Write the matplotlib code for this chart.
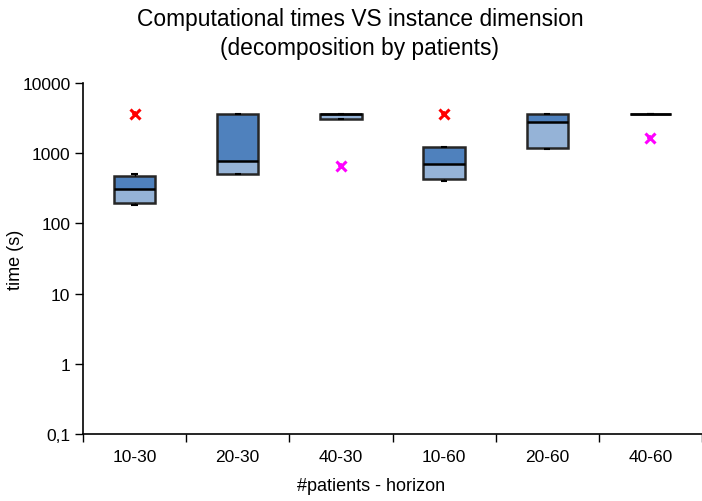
import numpy as np
import matplotlib.pyplot as plt
from matplotlib.ticker import FixedLocator, FixedFormatter, NullLocator

plt.rcParams['font.family'] = ['Liberation Sans', 'DejaVu Sans']

# Data
categories = ['10-30', '20-30', '40-30', '10-60', '20-60', '40-60']
whisker_lo = [183, 500, 3070, 402, 1140, 3600]
q1 = [195, 511, 3070, 429, 1175, 3600]
median = [306, 774, 3600, 709, 2755, 3600]
q3 = [478, 3600, 3600, 1238, 3600, 3600]
whisker_hi = [511, 3600, 3600, 1238, 3650, 3600]
outlier_x = ['10-30', '10-60', '40-30', '40-60']
outlier_y = [3600, 3600, 657, 1663]
outlier_color = ['#ff0000', '#ff0000', '#ff00ff', '#ff00ff']

light = '#95b3d7'
dark = '#4f81bd'
edge = '#262626'

fig = plt.figure(figsize=(7.02, 5.02), dpi=100)
ax = fig.add_axes([83 / 702, 67 / 502, 619 / 702, 351 / 502])

pos = np.arange(len(categories)) + 0.5
q1 = np.array(q1); median = np.array(median); q3 = np.array(q3)
w = 0.4

# whiskers
ax.vlines(pos, whisker_lo, q1, color='black', lw=1)
ax.vlines(pos, q3, whisker_hi, color='black', lw=1)
ax.hlines(whisker_lo, pos - 0.03, pos + 0.03, color='black', lw=1.5)
ax.hlines(whisker_hi, pos - 0.03, pos + 0.03, color='black', lw=1.5)

# boxes: lower part light, upper part dark
ax.bar(pos, median - q1, bottom=q1, width=w, color=light, lw=0)
ax.bar(pos, q3 - median, bottom=median, width=w, color=dark, lw=0)
ax.bar(pos, q3 - q1, bottom=q1, width=w, fill=False, edgecolor=edge, lw=1.8)
ax.hlines(median, pos - w / 2, pos + w / 2, color='black', lw=1.8)

# outliers
ox = [pos[categories.index(c)] for c in outlier_x]
for x, y, c in zip(ox, outlier_y, outlier_color):
    ax.plot(x, y, marker='x', color=c, ms=6.5, mew=2.2, ls='none')
    ax.plot(x, y, marker='+', color=c, ms=5, mew=1.2, ls='none')

ax.set_yscale('log')
ax.set_ylim(0.1, 10000)
ax.set_xlim(0, 619 / 105.3)
yt = [0.1, 1, 10, 100, 1000, 10000]
ax.yaxis.set_major_locator(FixedLocator(yt))
ax.yaxis.set_major_formatter(FixedFormatter(['0,1', '1', '10', '100', '1000', '10000']))
ax.yaxis.set_minor_locator(NullLocator())

ax.set_xticks(np.arange(len(categories) + 1))
ax.set_xticks(pos, minor=True)
ax.set_xticklabels([''] * (len(categories) + 1))
ax.set_xticklabels(categories, minor=True)
ax.tick_params(axis='x', which='major', length=6, width=1, direction='out')
ax.tick_params(axis='x', which='minor', length=0, pad=11, labelsize=12.5)
ax.tick_params(axis='y', length=6, width=1, labelsize=12.5, pad=3)

for s in ['top', 'right']:
    ax.spines[s].set_visible(False)
for s in ['left', 'bottom']:
    ax.spines[s].set_linewidth(1.2)

ax.set_ylabel('time (s)', fontsize=13)
ax.yaxis.set_label_coords((24 - 83) / 619, 0.5)
ax.set_xlabel('#patients - horizon', fontsize=13)
ax.xaxis.set_label_coords((371 - 83) / 619, -(478 - 435) / 351)

fig.text(360 / 702, 1 - 34 / 502, 'Computational times VS instance dimension\n(decomposition by patients)',
         ha='center', va='center', fontsize=16.4, linespacing=1.35)

plt.savefig('out.png', dpi=100)
